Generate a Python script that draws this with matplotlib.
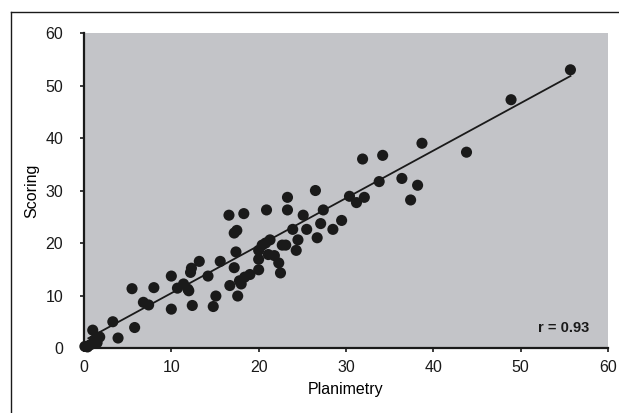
import matplotlib.pyplot as plt
import numpy as np

plt.rcParams['font.family'] = ['Liberation Sans', 'DejaVu Sans']

# planimetry vs scoring
planimetry = [55.7, 48.9, 38.7, 43.8, 31.9, 34.2, 33.8, 36.4, 38.2, 37.4,
              30.4, 31.2, 32.1, 26.5, 23.3, 23.3, 20.9, 18.3, 16.6, 25.1,
              27.4, 29.5, 27.1, 28.5, 25.5, 23.9, 26.7, 24.5, 24.3, 17.5,
              17.2, 21.3, 22.7, 23.1, 20.4, 20.8, 20.0, 17.4, 21.1, 21.8,
              20.0, 22.3, 20.0, 22.5, 19.0, 18.4, 18.0, 17.8, 17.2, 16.7,
              17.6, 15.6, 13.2, 12.3, 12.2, 14.2, 10.0, 11.4, 10.7, 11.9,
              12.0, 15.1, 14.8, 12.4, 10.0, 8.0, 5.5, 6.8, 7.4, 5.8,
              3.3, 3.9, 1.0, 1.8, 1.5, 0.7, 0.1, 0.4, 1.2]
scoring = [53.0, 47.3, 39.0, 37.3, 36.0, 36.7, 31.7, 32.3, 31.0, 28.2,
           28.9, 27.7, 28.7, 30.0, 28.7, 26.3, 26.3, 25.6, 25.3, 25.3,
           26.3, 24.3, 23.7, 22.6, 22.6, 22.6, 21.0, 20.6, 18.6, 22.4,
           21.9, 20.6, 19.6, 19.6, 19.6, 20.0, 18.6, 18.3, 17.8, 17.6,
           16.9, 16.2, 14.9, 14.3, 14.0, 13.5, 12.2, 12.8, 15.3, 11.9,
           9.9, 16.5, 16.5, 15.2, 14.4, 13.7, 13.7, 12.2, 11.4, 11.2,
           10.9, 9.9, 7.9, 8.1, 7.4, 11.5, 11.3, 8.7, 8.2, 3.9,
           5.0, 1.9, 3.4, 2.1, 1.0, 0.6, 0.3, 0.2, 1.5]
r_value = 0.93
# regression line as drawn in the figure
fit_intercept = 1.4
fit_slope = 0.905
fit_range = [0.5, 55.7]

x = np.array(planimetry)
y = np.array(scoring)

fig = plt.figure(figsize=(6.19, 4.13), dpi=100)
ax = fig.add_axes([0.1357, 0.1574, 0.8465, 0.7626])
ax.set_facecolor('#c3c4c8')

xs = np.array(fit_range)
ax.plot(xs, fit_intercept + fit_slope * xs, color='#1a1a1a', lw=1.3,
        zorder=2)
ax.scatter(x, y, s=64, color='#1a1a1a', edgecolors='none', zorder=3,
           clip_on=False)

ax.set_xlim(0, 60)
ax.set_ylim(0, 60)
ax.set_xticks(range(0, 61, 10))
ax.set_yticks(range(0, 61, 10))
for side in ['top', 'right']:
    ax.spines[side].set_visible(False)
for side in ['left', 'bottom']:
    ax.spines[side].set_linewidth(1.6)
    ax.spines[side].set_color('#1a1a1a')
ax.tick_params(direction='out', length=3, width=1.2, labelsize=11.5,
               colors='#1a1a1a')
ax.tick_params(axis='y', pad=12)
ax.tick_params(axis='x', pad=6)

ax.set_xlabel('Planimetry', fontsize=11.5, labelpad=5)
ax.set_ylabel('Scoring', fontsize=11.5, labelpad=4)
ax.text(0.965, 0.065, f'r = {r_value}', transform=ax.transAxes,
        ha='right', va='center', fontsize=10.5, fontweight='bold',
        color='#1a1a1a')

# frame lines of the original panel (top and left only)
fig.add_artist(plt.Line2D([0.018, 0.018], [0, 0.971], color='#1a1a1a',
                          lw=1.0, transform=fig.transFigure))
fig.add_artist(plt.Line2D([0.018, 1.0], [0.971, 0.971], color='#1a1a1a',
                          lw=1.0, transform=fig.transFigure))

fig.savefig('out.png', dpi=100)
